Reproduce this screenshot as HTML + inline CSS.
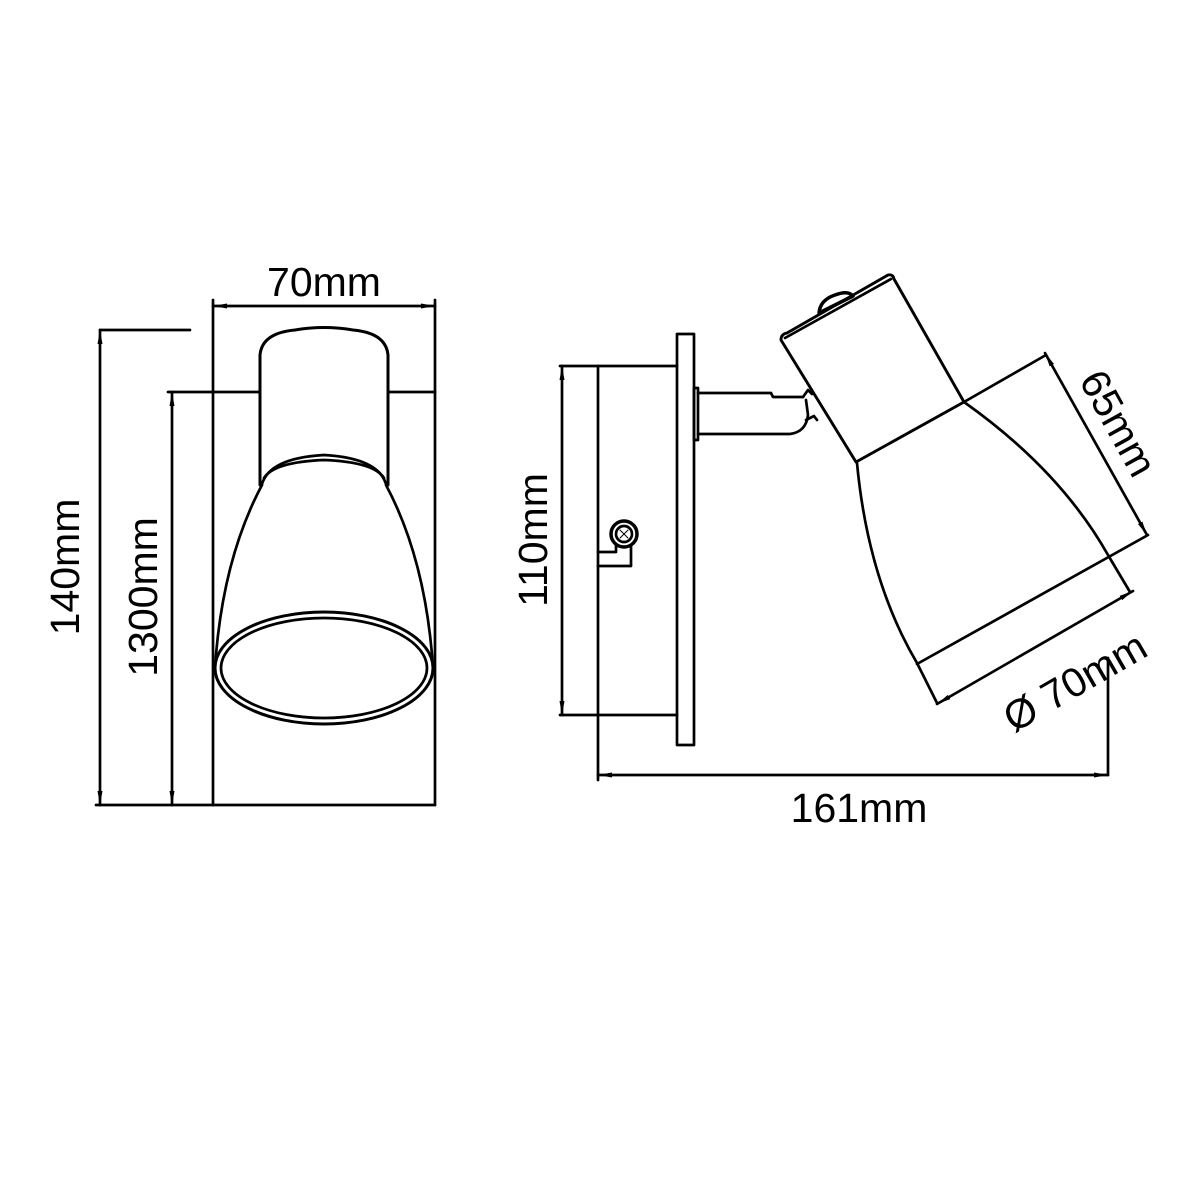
<!DOCTYPE html>
<html><head><meta charset="utf-8"><style>html,body{margin:0;padding:0;background:#fff}svg{display:block}text{font-family:"Liberation Sans",Arial,sans-serif;font-size:41px;fill:#000}</style></head>
<body>
<svg width="1200" height="1200" viewBox="0 0 1200 1200" xmlns="http://www.w3.org/2000/svg">
<defs>
<marker id="a" viewBox="0 0 14 6" refX="14" refY="3" markerWidth="14" markerHeight="6" markerUnits="userSpaceOnUse" orient="auto-start-reverse"><path d="M0,0.5 L14,3 L0,5.5 Z" fill="#000"/></marker>
</defs>
<g fill="none" stroke="#000" stroke-width="2.7" stroke-linejoin="round" stroke-linecap="round">
<!-- LEFT VIEW -->
<line x1="213" y1="306" x2="435" y2="306" marker-start="url(#a)" marker-end="url(#a)"/>
<line x1="213" y1="300" x2="213" y2="805"/>
<line x1="435" y1="300" x2="435" y2="805"/>
<line x1="96" y1="805" x2="435" y2="805"/>
<line x1="100" y1="330" x2="190" y2="330"/>
<line x1="100" y1="330" x2="100" y2="805" marker-start="url(#a)" marker-end="url(#a)"/>
<line x1="168" y1="392" x2="260" y2="392"/>
<line x1="388" y1="392" x2="435" y2="392"/>
<line x1="172" y1="392" x2="172" y2="805" marker-start="url(#a)" marker-end="url(#a)"/>
<!-- cylinder -->
<path d="M260,485 L260,355 Q262,333 295,330 Q324,325 353,330 Q386,333 388,355 L388,485" stroke-width="3"/>
<path d="M262,484 Q270,458 324,455 Q378,458 386,484"/>
<path d="M264,478 Q274,462 324,460 Q374,462 384,478"/>
<!-- shade -->
<path d="M262,485 Q222,560 215,668"/>
<path d="M386,485 Q426,560 433,668"/>
<ellipse cx="324" cy="668" rx="109" ry="56" stroke-width="3"/>
<ellipse cx="324" cy="668" rx="103" ry="50"/>
<!-- RIGHT VIEW -->
<rect x="677" y="334" width="17" height="411"/>
<line x1="560" y1="366" x2="677" y2="366"/>
<line x1="560" y1="715" x2="677" y2="715"/>
<line x1="598" y1="366" x2="598" y2="780"/>
<line x1="562" y1="366" x2="562" y2="715" marker-start="url(#a)" marker-end="url(#a)"/>
<line x1="598" y1="775" x2="1108" y2="775" marker-start="url(#a)" marker-end="url(#a)"/>
<line x1="1108" y1="658" x2="1108" y2="775"/>
<!-- screw -->
<circle cx="624" cy="534" r="13" stroke-width="3.5"/>
<circle cx="624" cy="534" r="8"/>
<path d="M620,530 L628,538 M628,530 L620,538" stroke-width="1"/>
<path d="M598,552 L616,552 L616,545"/>
<path d="M598,566 L631,566 L631,546"/>
<!-- arm -->
<rect x="694" y="388" width="4" height="52"/>
<path d="M698,393 L771,393 L773,397 L803,397"/>
<path d="M698,434 L790,434 Q806,432 808,415 L806,400"/>
<path d="M803,397 L808,390 L812,394 M806,420 L814,416 L817,420"/>
<!-- head -->
<path d="M856,462 L781,340 Q781,334 787,333 L888,275 Q893,274 894,279 L964,402 Z" stroke-width="2.9"/>
<line x1="785" y1="338" x2="891" y2="279"/>
<path d="M819,313 Q820,300 835,295 Q848,290 853,296 Z" stroke-width="3.5"/>
<!-- shade -->
<path d="M857,463 Q868,580 917,663 L937,703"/>
<path d="M964,402 Q1060,470 1108,555 L1130,592"/>
<line x1="917" y1="664" x2="1148" y2="535"/>
<line x1="964" y1="402" x2="1046" y2="355"/>
<line x1="1045" y1="353" x2="1147" y2="535" marker-start="url(#a)" marker-end="url(#a)"/>
<line x1="937" y1="704" x2="1133" y2="591" marker-start="url(#a)" marker-end="url(#a)"/>
</g>
<text x="324" y="296" text-anchor="middle" font-size="38">70mm</text>
<text x="859" y="822" text-anchor="middle">161mm</text>
<text transform="translate(79,567) rotate(-90)" text-anchor="middle">140mm</text>
<text transform="translate(157,597) rotate(-90)" text-anchor="middle">1300mm</text>
<text transform="translate(547,540) rotate(-90)" text-anchor="middle">110mm</text>
<text transform="translate(1106,430) rotate(61)" text-anchor="middle">65mm</text>
<text transform="translate(1082,694) rotate(-30)" text-anchor="middle">Ø 70mm</text>
</svg>
</body></html>
